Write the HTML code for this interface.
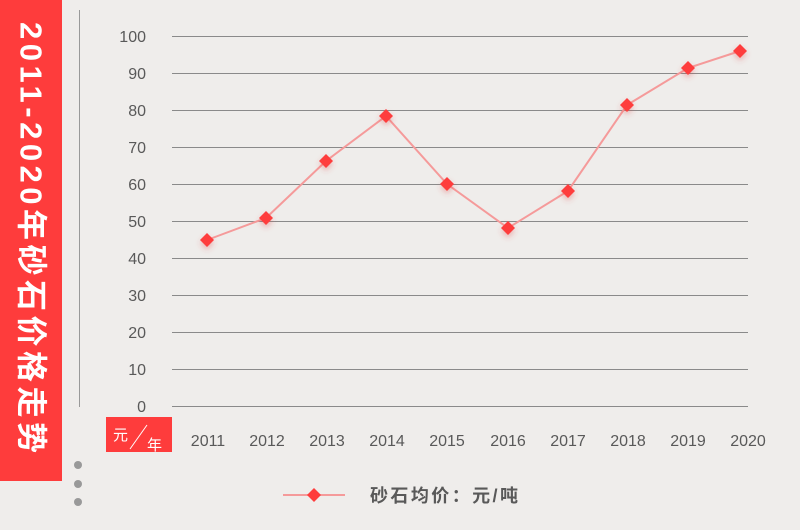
<!DOCTYPE html>
<html><head><meta charset="utf-8"><style>
body{margin:0;width:800px;height:530px;background:#efedeb;overflow:hidden;font-family:"Liberation Sans","Noto Sans CJK SC",sans-serif;}
</style></head><body>
<svg width="800" height="530" xmlns="http://www.w3.org/2000/svg" style="position:absolute;left:0;top:0">
<defs><filter id="sh" x="-100%" y="-100%" width="300%" height="300%"><feDropShadow dx="0" dy="3" stdDeviation="3" flood-color="#e04040" flood-opacity="0.35"/></filter></defs>
<rect x="0" y="0" width="62" height="481" fill="#fe3c3c"/>
<text transform="translate(31,22) rotate(90)" font-size="31" font-weight="bold" fill="#fff" font-family="'Liberation Sans','Noto Sans CJK SC',sans-serif" dominant-baseline="central" letter-spacing="1" textLength="432" lengthAdjust="spacing">2011-2020年砂石价格走势</text>
<line x1="79.5" y1="10" x2="79.5" y2="407" stroke="#999" stroke-width="1"/>
<circle cx="78" cy="465" r="4" fill="#999"/><circle cx="78" cy="484" r="4" fill="#999"/><circle cx="78" cy="502" r="4" fill="#999"/>
<g stroke="#8a8a8a" stroke-width="1">
<line x1="172" y1="36.5" x2="748" y2="36.5"/><line x1="172" y1="73.5" x2="748" y2="73.5"/><line x1="172" y1="110.5" x2="748" y2="110.5"/><line x1="172" y1="147.5" x2="748" y2="147.5"/><line x1="172" y1="184.5" x2="748" y2="184.5"/><line x1="172" y1="221.5" x2="748" y2="221.5"/><line x1="172" y1="258.5" x2="748" y2="258.5"/><line x1="172" y1="295.5" x2="748" y2="295.5"/><line x1="172" y1="332.5" x2="748" y2="332.5"/><line x1="172" y1="369.5" x2="748" y2="369.5"/><line x1="172" y1="406.5" x2="748" y2="406.5"/>
</g>
<g font-size="16" fill="#595959" text-anchor="end">
<text x="146" y="42">100</text><text x="146" y="79">90</text><text x="146" y="116">80</text><text x="146" y="153">70</text><text x="146" y="190">60</text><text x="146" y="227">50</text><text x="146" y="264">40</text><text x="146" y="301">30</text><text x="146" y="338">20</text><text x="146" y="375">10</text><text x="146" y="412">0</text>
</g>
<rect x="106" y="417" width="66" height="35" fill="#fe3c3c"/>
<text x="113" y="440" font-size="15" fill="#fff">元</text>
<line x1="130" y1="449" x2="147" y2="425" stroke="#fff" stroke-width="1"/>
<text x="147" y="450" font-size="15" fill="#fff">年</text>
<g font-size="16" fill="#595959" text-anchor="middle">
<text x="208" y="446">2011</text><text x="267" y="446">2012</text><text x="327" y="446">2013</text><text x="387" y="446">2014</text><text x="447" y="446">2015</text><text x="508" y="446">2016</text><text x="568" y="446">2017</text><text x="628" y="446">2018</text><text x="688" y="446">2019</text><text x="748" y="446">2020</text>
</g>
<polyline points="207,240 266,218 326,161 386,116 447,184 508,228 568,191 627,105 688,68 740,51" fill="none" stroke="#f59a9a" stroke-width="2"/>
<g fill="#fe3c3c" filter="url(#sh)">
<path d="M207,233 l7,7 l-7,7 l-7,-7z"/><path d="M266,211 l7,7 l-7,7 l-7,-7z"/><path d="M326,154 l7,7 l-7,7 l-7,-7z"/><path d="M386,109 l7,7 l-7,7 l-7,-7z"/><path d="M447,177 l7,7 l-7,7 l-7,-7z"/><path d="M508,221 l7,7 l-7,7 l-7,-7z"/><path d="M568,184 l7,7 l-7,7 l-7,-7z"/><path d="M627,98 l7,7 l-7,7 l-7,-7z"/><path d="M688,61 l7,7 l-7,7 l-7,-7z"/><path d="M740,44 l7,7 l-7,7 l-7,-7z"/>
</g>
<line x1="283" y1="495" x2="345" y2="495" stroke="#f59a9a" stroke-width="2"/>
<path d="M314,488 l7,7 l-7,7 l-7,-7z" fill="#fe3c3c"/>
<text x="370" y="502" font-size="18" font-weight="bold" fill="#595959" textLength="148" lengthAdjust="spacing">砂石均价：元/吨</text>
</svg>
</body></html>
